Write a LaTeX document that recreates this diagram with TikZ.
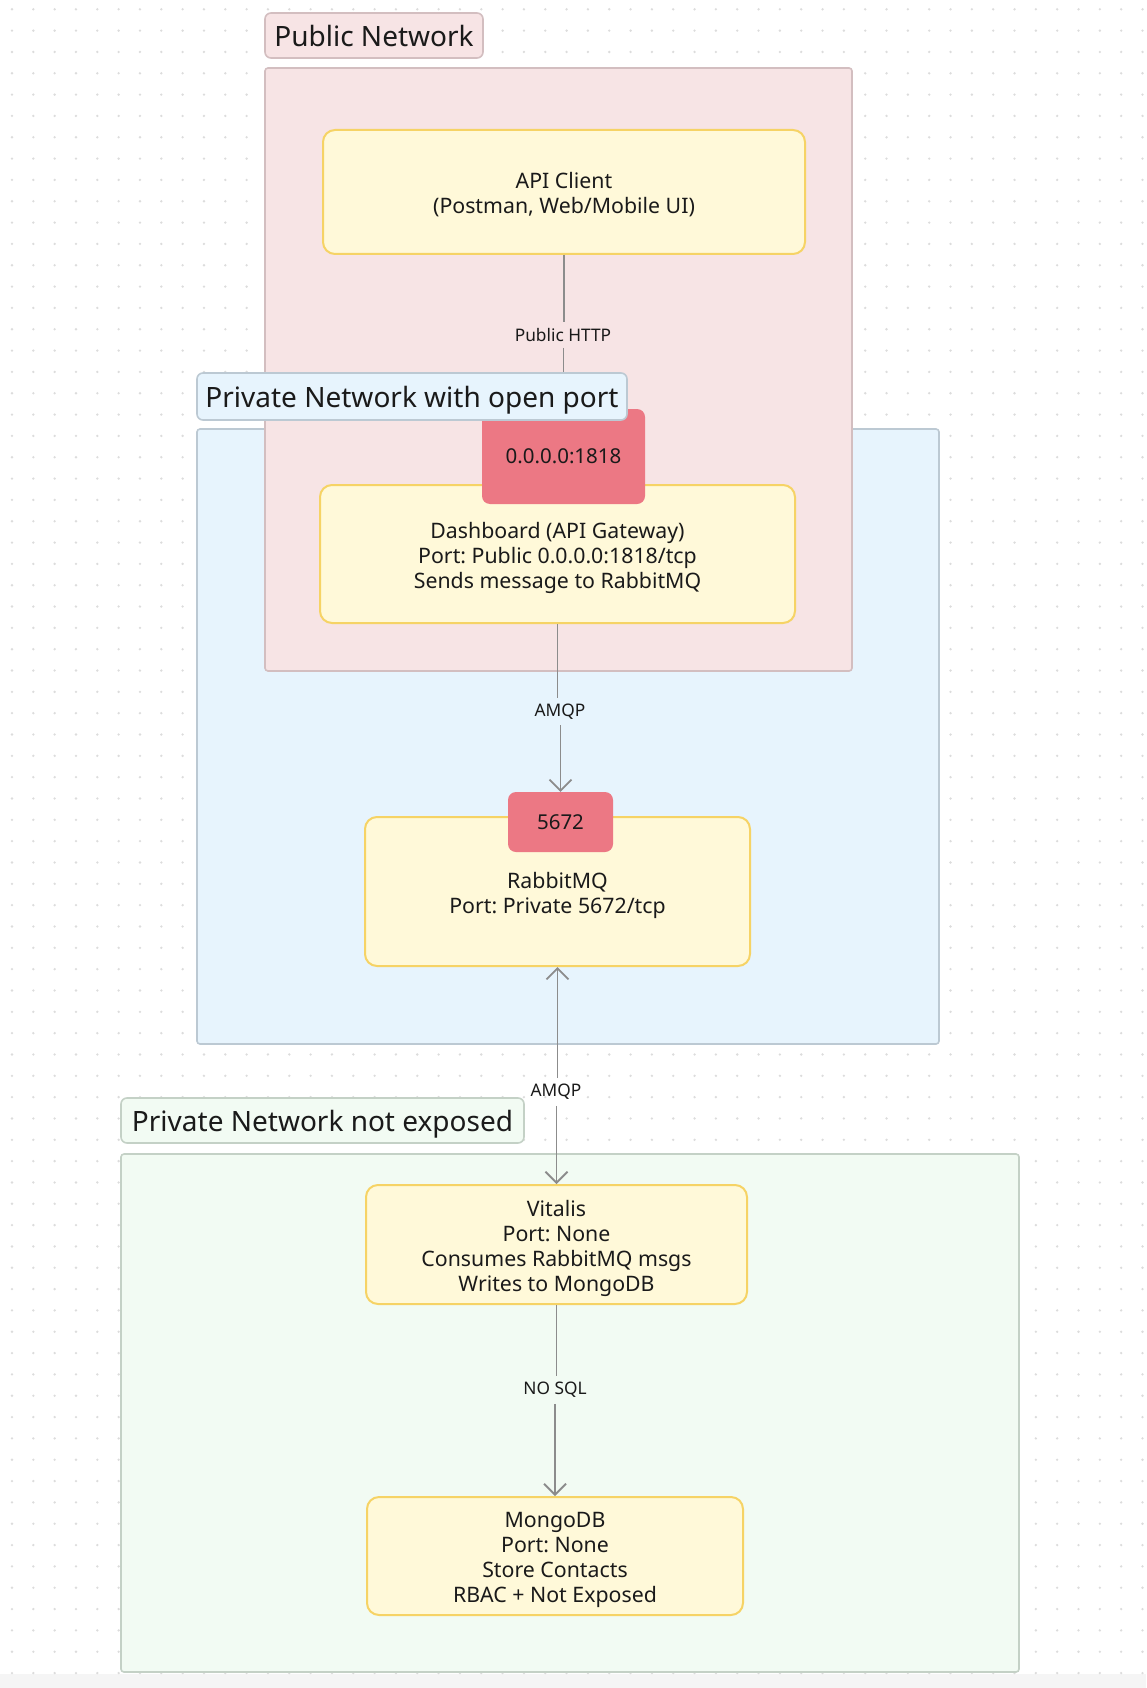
\documentclass[tikz,border=0pt]{standalone}
\usepackage{fontspec}
\setmainfont{Noto Sans}
\usetikzlibrary{arrows.meta}
\frenchspacing
\definecolor{pinkfill}{HTML}{F7E4E5}
\definecolor{pinkdraw}{HTML}{D3BEC0}
\definecolor{bluefill}{HTML}{E7F4FD}
\definecolor{bluedraw}{HTML}{BCC9D3}
\definecolor{greenfill}{HTML}{F2FBF3}
\definecolor{greendraw}{HTML}{C4D1C6}
\definecolor{nodefill}{HTML}{FFF9D9}
\definecolor{nodedraw}{HTML}{F6D365}
\definecolor{portfill}{HTML}{EC7884}
\definecolor{edgecol}{HTML}{8C8C8C}
\definecolor{txt}{HTML}{1A1A1A}
\definecolor{dotcol}{HTML}{DCDCDC}
\newcommand{\topstrut}{\rule{0pt}{23.8pt}}
\newcommand{\botstrut}{\rule[-5.2pt]{0pt}{0pt}}
\begin{document}
\begin{tikzpicture}[x=1pt,y=-1pt,
  container/.style={draw, line width=1.6pt, rounded corners=3pt, inner sep=0pt},
  grouplabel/.style={draw, line width=1.6pt, rounded corners=6pt, inner sep=0pt,
    font=\fontsize{28}{32}\selectfont, text=txt, text height=28pt, text depth=5.6pt},
  svc/.style={draw=nodedraw, fill=nodefill, line width=2pt, rounded corners=12pt,
    inner sep=0pt, align=center, font=\fontsize{21.3}{25}\selectfont, text=txt},
  portbox/.style={fill=portfill, rounded corners=8pt, inner sep=0pt,
    font=\fontsize{20.5}{25}\selectfont, text=txt},
  elabel/.style={font=\fontsize{17.3}{20}\selectfont, text=txt, inner xsep=2pt, inner ysep=6pt},
  conn/.style={draw=edgecol, line width=1.8pt},
  tip/.style={-{Straight Barb[length=11pt,width=22pt]}}
]
\useasboundingbox (0,0) rectangle (1146,1688);
\fill[white] (0,0) rectangle (1146,1688);
\fill[black!4] (0,1674) rectangle (1146,1688);
\foreach \i in {0,...,53}{
  \foreach \j in {0,...,79}{
    \fill[dotcol] (12+\i*21.33, 9.3+\j*21.33) circle (1.3);
  }
}
% containers
\node[container, draw=bluedraw, fill=bluefill, minimum width=742pt, minimum height=615pt] (blue) at (568,736.5) {};
\node[container, draw=pinkdraw, fill=pinkfill, minimum width=587pt, minimum height=603pt] (pub) at (558.5,369.5) {};
\node[container, draw=greendraw, fill=greenfill, minimum width=898pt, minimum height=518pt] (green) at (570,1413) {};
% services
\node[svc, minimum width=482pt, minimum height=124pt] (api) at (564,192) {\topstrut API Client\\(Postman, Web/Mobile UI)\botstrut};
\node[svc, minimum width=475pt, minimum height=138pt] (dash) at (557.5,554) {\topstrut Dashboard (API Gateway)\\Port: Public 0.0.0.0:1818/tcp\\Sends message to RabbitMQ\botstrut};
\node[svc, minimum width=385pt, minimum height=149pt] (rabbit) at (557.5,891.5) {\topstrut RabbitMQ\\Port: Private 5672/tcp\botstrut};
\node[svc, minimum width=381pt, minimum height=119pt] (vit) at (556.5,1244.5) {\topstrut Vitalis\\Port: None\\Consumes RabbitMQ msgs\\Writes to MongoDB\botstrut};
\node[svc, minimum width=376pt, minimum height=118pt] (mongo) at (555,1556) {\topstrut MongoDB\\Port: None\\Store Contacts\\RBAC + Not Exposed\botstrut};
% ports
\node[portbox, minimum width=163pt, minimum height=95pt] (port1) at (563.5,456.5) {0.0.0.0:1818};
\node[portbox, minimum width=105pt, minimum height=60pt] (port2) at (560.5,822) {5672};
% edge labels
\node[elabel] (l0) at (563,335) {Public HTTP};
\node[elabel] (l1) at (560,711.5) {AMQP};
\node[elabel] (l2) at (556,1092) {AMQP};
\node[elabel] (l3) at (555,1390) {NO SQL};
% connectors
\draw[conn] (api.south) -- (api.south |- l0.north);
\draw[conn] (port1.north |- l0.south) -- (port1.north);
\draw[conn] (dash.south) -- (dash.south |- l1.north);
\draw[conn, tip] (port2.north |- l1.south) -- (port2.north);
\draw[conn, tip] (rabbit.south |- l2.north) -- (rabbit.south);
\draw[conn, tip] (vit.north |- l2.south) -- (vit.north);
\draw[conn] (vit.south) -- (vit.south |- l3.north);
\draw[conn, tip] (mongo.north |- l3.south) -- (mongo.north);
% group labels
\node[grouplabel, draw=pinkdraw, fill=pinkfill, minimum width=218pt, minimum height=45pt] (publabel) at (374,35.5) {Public Network};
\node[grouplabel, draw=bluedraw, fill=bluefill, minimum width=430pt, minimum height=47pt] (bluelabel) at (412,396.5) {Private Network with open port};
\node[grouplabel, draw=greendraw, fill=greenfill, minimum width=403pt, minimum height=45pt] (greenlabel) at (322.5,1120.5) {Private Network not exposed};
\end{tikzpicture}
\end{document}
